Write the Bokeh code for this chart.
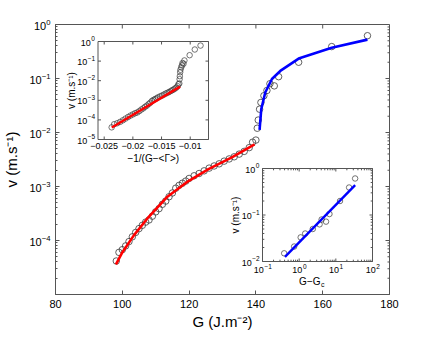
import numpy as np
from bokeh.plotting import figure
from bokeh.models import Range1d, FixedTicker, LinearScale
from bokeh.core.properties import value
from bokeh.embed import file_html
from bokeh.resources import INLINE

FONT = "Liberation Sans"
FRAME = "#555555"
CIRC = "#3a3a3a"

# ---------------- main panel data ----------------
red_G = [98.2, 99.0, 100.0, 101.0, 102.0, 103.0, 104.0, 105.0, 106.0, 107.0, 108.0, 109.0,
         110.0, 111.0, 112.0, 113.0, 114.0, 115.0, 116.0, 117.0, 118.0, 119.0, 120.0, 121.5,
         123.0, 124.5, 126.0, 127.5, 129.0, 130.5, 132.0, 133.5, 135.0, 136.5, 138.0, 139.0, 140.0]
red_v = [4.17e-5, 6.03e-5, 6.76e-5, 7.94e-5, 9.55e-5, 1.17e-4, 1.41e-4, 1.66e-4, 1.91e-4, 2.19e-4,
         2.40e-4, 2.82e-4, 3.39e-4, 3.89e-4, 4.68e-4, 5.37e-4, 6.46e-4, 7.59e-4, 9.3e-4, 1.05e-3,
         1.15e-3, 1.26e-3, 1.41e-3, 1.58e-3, 1.74e-3, 1.95e-3, 2.19e-3, 2.40e-3, 2.63e-3, 2.95e-3,
         3.24e-3, 3.55e-3, 3.98e-3, 4.47e-3, 5.25e-3, 6.61e-3, 7.24e-3]
red_fit_G = [98.1, 100.0, 103.4, 107.8, 113.3, 119.8, 125.8, 132.8, 139.6]
red_fit_v = [3.63e-5, 6.0e-5, 1.23e-4, 2.69e-4, 6.31e-4, 1.26e-3, 2.09e-3, 3.47e-3, 6.03e-3]

blue_G = [140.4, 140.7, 141.1, 141.5, 142.4, 143.3, 144.2, 145.5, 146.8, 152.8, 162.7, 173.4]
blue_v = [0.012, 0.017, 0.027, 0.036, 0.048, 0.060, 0.080, 0.073, 0.108, 0.20, 0.39, 0.62]
blue_fit_G = [141.1, 141.6, 142.8, 144.8, 147.3, 152.8, 162.7, 173.4]
blue_fit_v = [0.0112, 0.0269, 0.055, 0.098, 0.138, 0.234, 0.372, 0.525]

x_ticks = [80, 100, 120, 140, 160, 180]
y_ticks = [1e-4, 1e-3, 1e-2, 1e-1, 1e0]

# ---------------- inset 1 data: v vs -1/(G-<Gamma>) ----------------
in1_x = [-0.02370, -0.02326, -0.02273, -0.02222, -0.02174, -0.02128, -0.02083, -0.02041,
         -0.02000, -0.01961, -0.01923, -0.01887, -0.01852, -0.01818, -0.01786, -0.01754,
         -0.01724, -0.01695, -0.01667, -0.01639, -0.01613, -0.01587, -0.01563, -0.01527,
         -0.01493, -0.01460, -0.01429, -0.01399, -0.01370, -0.01342, -0.01316, -0.01290,
         -0.01266, -0.01242, -0.01220, -0.01205, -0.01190,
         -0.01185, -0.01181, -0.01175, -0.01170, -0.01157, -0.01145, -0.01134, -0.01117,
         -0.01101, -0.01010, -0.00920, -0.00820]
in1_v = red_v + blue_v
in1_fit_x = [-0.02368, -0.01176]
in1_fit_v = [4.07e-5, 5.0e-3]
in1_xticks = [-0.025, -0.02, -0.015, -0.01]
in1_xlabels = ["\u22120.025", "\u22120.02", "\u22120.015", "\u22120.01"]
in1_yexp = [-5, -4, -3, -2, -1, 0]

# ---------------- inset 2 data: v vs G - Gc ----------------
in2_dG = [0.39, 0.73, 1.1, 1.46, 2.35, 3.6, 4.1, 5.4, 6.7, 13.0, 23.0, 33.6]
in2_v = [0.015, 0.021, 0.033, 0.040, 0.050, 0.063, 0.080, 0.072, 0.105, 0.20, 0.39, 0.61]
in2_fit_dG = [0.41, 33.6]
in2_fit_v = [0.0126, 0.44]
in2_xexp = [-1, 0, 1, 2]
in2_yexp = [-2, -1, 0]

# ---------------- layout (frame) ----------------
FW, FH = 334, 270
p = figure(frame_width=FW, frame_height=FH, x_range=Range1d(80, 180), y_range=Range1d(1e-5, 1),
           y_axis_type="log", output_backend="svg", toolbar_location=None,
           min_border_left=54, min_border_right=32, min_border_top=24, min_border_bottom=43)
p.grid.visible = False
p.outline_line_color = FRAME
p.background_fill_color = "white"
p.border_fill_color = "white"

minor_y = [k * 10.0 ** e for e in range(-5, 0) for k in range(2, 10)]

for ax in (p.xaxis[0], p.yaxis[0]):
    ax.axis_line_color = FRAME
    ax.major_tick_line_color = FRAME
    ax.minor_tick_line_color = FRAME
    ax.major_tick_in = 4
    ax.major_tick_out = 0
    ax.minor_tick_in = 2
    ax.minor_tick_out = 0
    ax.major_label_text_font = FONT
    ax.major_label_text_font_size = "11px"
    ax.major_label_text_color = "black"
    ax.major_label_standoff = 5
    ax.axis_label_text_font = FONT
    ax.axis_label_text_font_size = "15px"
    ax.axis_label_text_font_style = "normal"
    ax.axis_label_text_color = "black"

p.xaxis.ticker = FixedTicker(ticks=x_ticks)
p.yaxis.ticker = FixedTicker(ticks=y_ticks, minor_ticks=minor_y)
p.xaxis.axis_label = "G (J.m\u207b\u00b2)"
p.yaxis.axis_label = "v (m.s\u207b\u00b9)"
p.xaxis.axis_label_standoff = 2
p.yaxis.axis_label_standoff = 6

# mirrored ticks on the top and right edges of the main box
nx = len(x_ticks)
p.ray(x=x_ticks, y=[1.0] * nx, length=4, angle=-np.pi / 2, length_units="screen",
      line_color=FRAME, line_width=1)
p.ray(x=[180] * len(y_ticks), y=y_ticks, length=4, angle=np.pi, length_units="screen",
      line_color=FRAME, line_width=1)
p.ray(x=[180] * len(minor_y), y=minor_y, length=2, angle=np.pi, length_units="screen",
      line_color=FRAME, line_width=1)

# main data
p.scatter(red_G + blue_G, red_v + blue_v, marker="circle", size=6.5, fill_color=None,
          line_color=CIRC, line_width=0.8)
p.line(red_fit_G, red_fit_v, line_color="#ff0000", line_width=2.6)
p.line(blue_fit_G, blue_fit_v, line_color="#0000ff", line_width=2.6)

# ---------------- insets drawn in extra (linear) ranges ----------------
FL, FT, FB = 62, 32, 302  # frame left / top / bottom in page px


def extra(lo, hi, a, b, n):
    s = (hi - lo) / (b - a)
    return Range1d(lo - a * s, lo + (n - a) * s)


I1 = dict(l=104.5, r=215, t=49, b=147)
I2 = dict(l=269, r=379, t=176, b=269)
i1_xlo, i1_xhi = -0.02608, -0.00681
i1_ylo, i1_yhi = -5.0, 0.0
i2_xlo, i2_xhi = -1.0, 2.0
i2_ylo, i2_yhi = -2.0, 0.0

p.extra_x_ranges = {
    "i1x": extra(i1_xlo, i1_xhi, I1["l"] - FL, I1["r"] - FL, FW),
    "i2x": extra(i2_xlo, i2_xhi, I2["l"] - FL, I2["r"] - FL, FW),
}
p.extra_y_ranges = {
    "i1y": extra(i1_ylo, i1_yhi, FB - I1["b"], FB - I1["t"], FH),
    "i2y": extra(i2_ylo, i2_yhi, FB - I2["b"], FB - I2["t"], FH),
}
p.extra_x_scales = {"i1x": LinearScale(), "i2x": LinearScale()}
p.extra_y_scales = {"i1y": LinearScale(), "i2y": LinearScale()}


def frame_and_ticks(kw, xlo, xhi, ylo, yhi, xmaj, ymaj, xmin, ymin):
    p.quad(left=[xlo], right=[xhi], bottom=[ylo], top=[yhi], fill_color="white",
           line_color=FRAME, line_width=1, **kw)
    for ticks, L in ((xmaj, 3), (xmin, 1.8)):
        if ticks:
            n = len(ticks)
            p.ray(x=ticks, y=[ylo] * n, length=L, angle=np.pi / 2, length_units="screen",
                  line_color=FRAME, line_width=1, **kw)
            p.ray(x=ticks, y=[yhi] * n, length=L, angle=-np.pi / 2, length_units="screen",
                  line_color=FRAME, line_width=1, **kw)
    for ticks, L in ((ymaj, 3), (ymin, 1.8)):
        if ticks:
            n = len(ticks)
            p.ray(x=[xlo] * n, y=ticks, length=L, angle=0, length_units="screen",
                  line_color=FRAME, line_width=1, **kw)
            p.ray(x=[xhi] * n, y=ticks, length=L, angle=np.pi, length_units="screen",
                  line_color=FRAME, line_width=1, **kw)


def sup_label_y(kw, xpos, exps, fs_base, fs_sup, gap):
    for e in exps:
        es = str(e).replace("-", "\u2212")
        w = 0.56 * fs_sup * len(es) + 0.5
        p.text(x=[xpos], y=[e], text=["10"], x_offset=-gap - w, y_offset=1,
               text_align="right", text_baseline="middle", text_font=value(FONT),
               text_font_size=f"{fs_base}px", text_color="black", **kw)
        p.text(x=[xpos], y=[e], text=[es], x_offset=-gap - w + 0.5, y_offset=-3,
               text_align="left", text_baseline="middle", text_font=value(FONT),
               text_font_size=f"{fs_sup}px", text_color="black", **kw)


def sup_label_x(kw, ypos, exps, fs_base, fs_sup, gap):
    for e in exps:
        es = str(e).replace("-", "\u2212")
        w = 0.56 * fs_sup * len(es)
        p.text(x=[e], y=[ypos], text=["10"], x_offset=-w / 2, y_offset=gap + 2,
               text_align="center", text_baseline="top", text_font=value(FONT),
               text_font_size=f"{fs_base}px", text_color="black", **kw)
        p.text(x=[e], y=[ypos], text=[es], x_offset=fs_base * 0.56 - w / 2 + 0.5, y_offset=gap - 1,
               text_align="left", text_baseline="top", text_font=value(FONT),
               text_font_size=f"{fs_sup}px", text_color="black", **kw)


# ---- inset 1 ----
k1 = dict(x_range_name="i1x", y_range_name="i1y")
frame_and_ticks(k1, i1_xlo, i1_xhi, i1_ylo, i1_yhi, in1_xticks, in1_yexp, [], [])
p.scatter(in1_x, np.log10(in1_v), marker="circle", size=5.5, fill_color=None,
          line_color=CIRC, line_width=0.7, **k1)
p.line(in1_fit_x, np.log10(in1_fit_v), line_color="#ff0000", line_width=2.4, **k1)
sup_label_y(k1, i1_xlo, in1_yexp, 9, 6.5, 3)
p.text(x=in1_xticks, y=[i1_ylo] * len(in1_xticks), text=in1_xlabels, y_offset=3,
       text_align="center", text_baseline="top", text_font=value(FONT),
       text_font_size="9px", text_color="black", **k1)
p.text(x=[(i1_xlo + i1_xhi) / 2], y=[i1_ylo], text=["\u22121/(G\u2212<\u0393>)"], y_offset=13,
       text_align="center", text_baseline="top", text_font=value(FONT),
       text_font_size="10px", text_color="black", **k1)
p.text(x=[i1_xlo], y=[(i1_ylo + i1_yhi) / 2], text=["v (m.s\u207b\u00b9)"], x_offset=-27,
       angle=np.pi / 2, text_align="center", text_baseline="middle", text_font=value(FONT),
       text_font_size="10px", text_color="black", **k1)

# ---- inset 2 ----
k2 = dict(x_range_name="i2x", y_range_name="i2y")
minor2_x = [np.log10(k * 10.0 ** e) for e in range(-1, 2) for k in range(2, 10)]
minor2_y = [np.log10(k * 10.0 ** e) for e in range(-2, 0) for k in range(2, 10)]
frame_and_ticks(k2, i2_xlo, i2_xhi, i2_ylo, i2_yhi, in2_xexp, in2_yexp, minor2_x, minor2_y)
p.scatter(np.log10(in2_dG), np.log10(in2_v), marker="circle", size=5.5, fill_color=None,
          line_color=CIRC, line_width=0.7, **k2)
p.line(np.log10(in2_fit_dG), np.log10(in2_fit_v), line_color="#0000ff", line_width=2.4, **k2)
sup_label_y(k2, i2_xlo, in2_yexp, 9, 6.5, 3)
sup_label_x(k2, i2_ylo, in2_xexp, 9, 6.5, 3)
p.text(x=[(i2_xlo + i2_xhi) / 2], y=[i2_ylo], text=["G\u2212G"], y_offset=14, x_offset=3,
       text_align="right", text_baseline="top", text_font=value(FONT),
       text_font_size="10px", text_color="black", **k2)
p.text(x=[(i2_xlo + i2_xhi) / 2], y=[i2_ylo], text=["c"], y_offset=19, x_offset=3.5,
       text_align="left", text_baseline="top", text_font=value(FONT),
       text_font_size="7px", text_color="black", **k2)
p.text(x=[i2_xlo], y=[(i2_ylo + i2_yhi) / 2], text=["v (m.s\u207b\u00b9)"], x_offset=-27,
       angle=np.pi / 2, text_align="center", text_baseline="middle", text_font=value(FONT),
       text_font_size="10px", text_color="black", **k2)

open("out.html", "w").write(file_html(p, INLINE))
